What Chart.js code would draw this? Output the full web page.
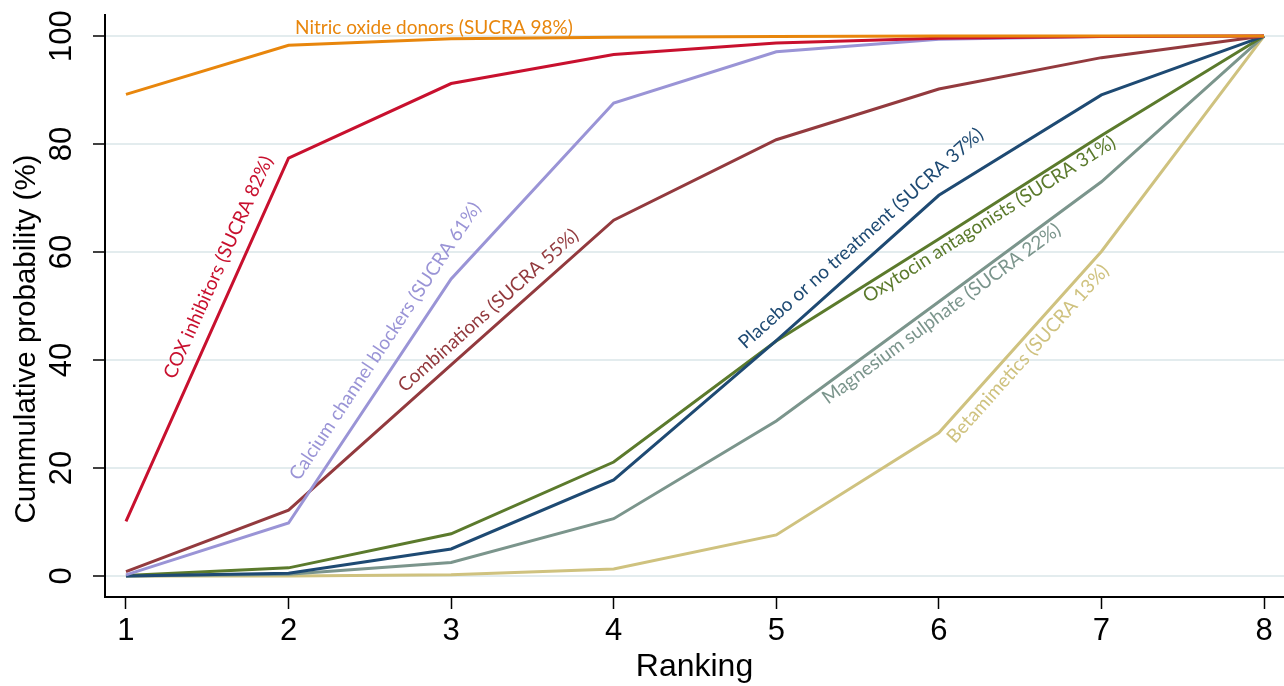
<!DOCTYPE html>
<html>
<head>
<meta charset="utf-8">
<script src="https://cdn.jsdelivr.net/npm/chart.js@4/dist/chart.umd.min.js"></script>
<style>
  html, body { margin: 0; padding: 0; background: #fff; }
</style>
</head>
<body>
<canvas id="myChart" width="1284" height="686"></canvas>
<script>
// ranking positions on the x axis
const rankings = [1, 2, 3, 4, 5, 6, 7, 8];

// cumulative probability (%) per treatment
const nitricOxide = [89.2, 98.3, 99.5, 99.8, 99.9, 100, 100, 100];
const coxInhibitors = [10.1, 77.4, 91.2, 96.6, 98.7, 99.6, 99.9, 100];
const calciumBlockers = [0.2, 9.8, 55.0, 87.6, 97.1, 99.4, 99.9, 100];
const combinations = [0.8, 12.2, 39.1, 65.9, 80.8, 90.2, 96.0, 100];
const placebo = [0, 0.5, 5.0, 17.8, 43.6, 70.5, 89.1, 100];
const oxytocin = [0.1, 1.5, 7.8, 21.1, 43.5, 62.4, 81.6, 100];
const magnesium = [0, 0.3, 2.5, 10.6, 28.7, 50.8, 73.0, 100];
const betamimetics = [0, 0, 0.2, 1.3, 7.6, 26.5, 60.1, 100];

const yTicks = [0, 20, 40, 60, 80, 100];

// "at" is where each label starts (data units), "seg" the line segment it follows
const series = [
  { name: "Nitric oxide donors (SUCRA 98%)", data: nitricOxide, color: "#e8860c", at: [2.04, 100.3], seg: null },
  { name: "COX inhibitors (SUCRA 82%)", data: coxInhibitors, color: "#c8102e", at: [1.30, 36.3], seg: [0, 1] },
  { name: "Calcium channel blockers (SUCRA 61%)", data: calciumBlockers, color: "#9a94d6", at: [2.065, 17.5], seg: [1, 2] },
  { name: "Combinations (SUCRA 55%)", data: combinations, color: "#933a3e", at: [2.716, 33.9], seg: [1, 3] },
  { name: "Placebo or no treatment (SUCRA 37%)", data: placebo, color: "#1e4a73", at: [4.81, 41.9], seg: [4, 5] },
  { name: "Oxytocin antagonists (SUCRA 31%)", data: oxytocin, color: "#5b7a2c", at: [5.564, 50.5], seg: [4, 6] },
  { name: "Magnesium sulphate (SUCRA 22%)", data: magnesium, color: "#7b958c", at: [5.318, 31.7], seg: [4, 6] },
  { name: "Betamimetics (SUCRA 13%)", data: betamimetics, color: "#cfc27f", at: [6.10, 24.4], seg: [5, 6] },
];

const axisFont = "'Liberation Sans', Arial, sans-serif";
const labelFont = "Lato, 'Open Sans', sans-serif";

// line labels written along each curve
const lineLabels = {
  id: "lineLabels",
  afterDatasetsDraw(chart) {
    const { ctx, scales: { x, y } } = chart;
    ctx.save();
    ctx.font = "19px " + labelFont;
    ctx.textAlign = "left";
    ctx.textBaseline = "alphabetic";
    series.forEach((s) => {
      let angle = 0;
      if (s.seg) {
        const [i, j] = s.seg;
        const dx = x.getPixelForValue(rankings[j]) - x.getPixelForValue(rankings[i]);
        const dy = y.getPixelForValue(s.data[j]) - y.getPixelForValue(s.data[i]);
        angle = Math.atan2(dy, dx);
      }
      ctx.save();
      ctx.translate(x.getPixelForValue(s.at[0]), y.getPixelForValue(s.at[1]));
      ctx.rotate(angle);
      ctx.fillStyle = s.color;
      ctx.fillText(s.name, 0, 0);
      ctx.restore();
    });
    ctx.restore();
  },
};

// y axis title, placed like the original (a bit below the axis middle)
const yTitle = {
  id: "yTitle",
  afterDraw(chart) {
    const { ctx } = chart;
    ctx.save();
    ctx.translate(27, 339);
    ctx.rotate(-Math.PI / 2);
    ctx.font = "29.5px " + axisFont;
    ctx.fillStyle = "#000";
    ctx.textAlign = "center";
    ctx.textBaseline = "middle";
    ctx.fillText("Cummulative probability (%)", 0, 0);
    ctx.restore();
  },
};

new Chart("myChart", {
  type: "line",
  data: {
    datasets: series.map((s) => ({
      label: s.name,
      data: rankings.map((r, i) => ({ x: r, y: s.data[i] })),
      borderColor: s.color,
      backgroundColor: s.color,
      borderWidth: 3,
      pointRadius: 0,
      tension: 0,
      fill: false,
    })),
  },
  options: {
    responsive: false,
    animation: false,
    layout: { padding: { top: 15, right: 0, left: 0, bottom: 0 } },
    plugins: { legend: { display: false }, tooltip: { enabled: false } },
    scales: {
      x: {
        type: "linear",
        min: 0.871,
        max: 8.123,
        afterBuildTicks: (s) => {
          s.ticks = rankings.map((v) => ({ value: v }));
        },
        ticks: { color: "#000", font: { size: 31, family: axisFont }, padding: 4, maxRotation: 0 },
        grid: { drawOnChartArea: false, tickLength: 12, tickColor: "#000", tickWidth: 1.5 },
        border: { color: "#000", width: 2 },
        title: { display: true, text: "Ranking", color: "#000", font: { size: 32, family: axisFont }, padding: { top: 0, bottom: 0 } },
        afterFit: (s) => {
          s.height = 89;
          s.paddingLeft = 0;
          s.paddingRight = 0;
        },
      },
      y: {
        type: "linear",
        min: -3.9,
        max: 103.9,
        afterBuildTicks: (s) => {
          s.ticks = yTicks.map((v) => ({ value: v }));
        },
        ticks: { color: "#000", font: { size: 31, family: axisFont }, minRotation: 90, maxRotation: 90, crossAlign: "center", padding: 5 },
        grid: { color: "#e3ecee", lineWidth: 2, tickLength: 12, tickColor: "#000", tickWidth: 1.5 },
        border: { color: "#000", width: 2 },
        afterFit: (s) => {
          s.width = 105;
          s.paddingTop = 0;
          s.paddingBottom = 0;
        },
      },
    },
  },
  plugins: [lineLabels, yTitle],
});
</script>
</body>
</html>
